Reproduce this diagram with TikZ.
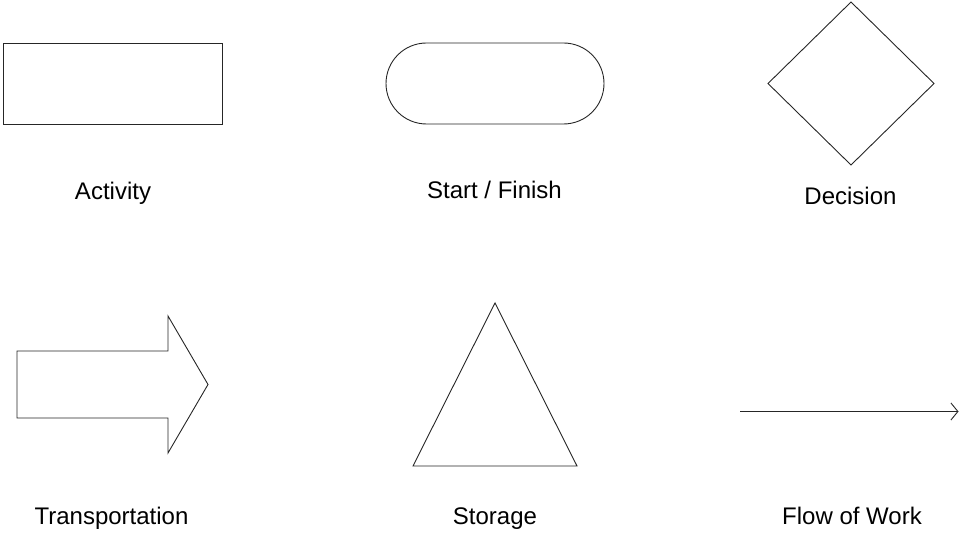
\documentclass[tikz,border=0pt]{standalone}
\usepackage{fontspec}
\setmainfont{Liberation Sans}
\usetikzlibrary{arrows.meta}
\begin{document}
\begin{tikzpicture}[x=1pt,y=-1pt,
  shapeline/.style={draw=black!85, line width=0.9pt, line join=miter},
  lbl/.style={anchor=base, inner sep=0pt, font=\fontsize{24}{28}\selectfont}]
\useasboundingbox (0,0) rectangle (959,534);
% Activity
\draw[shapeline] (3,43) rectangle (222,124.5);
\node[lbl] (activity) at (113,200) {Activity};
% Start / Finish
\draw[shapeline, rounded corners=40.5pt] (386,43) rectangle (604,124);
\node[lbl] (startfinish) at (494.5,199) {Start / Finish};
% Decision
\draw[shapeline] (851,2) -- (934,83.5) -- (851,165) -- (768,83.5) -- cycle;
\node[lbl] (decision) at (850.5,205) {Decision};
% Transportation
\draw[shapeline] (17,351) -- (168,351) -- (168,316) -- (208,384.5) -- (168,453) -- (168,418) -- (17,418) -- cycle;
\node[lbl] (transport) at (111.5,524) {Transportation};
% Storage
\draw[shapeline] (495,303) -- (577,466) -- (413,466) -- cycle;
\node[lbl] (storage) at (495,524) {Storage};
% Flow of Work
\coordinate (fstart) at (740,411.5);
\coordinate (fend) at (958.5,411.5);
\draw[shapeline, -{Straight Barb[length=7pt,width=17pt,line width=0.9pt]}] (fstart) -- (fend);
\node[lbl] (flow) at (852,524) {Flow of Work};
\end{tikzpicture}
\end{document}
